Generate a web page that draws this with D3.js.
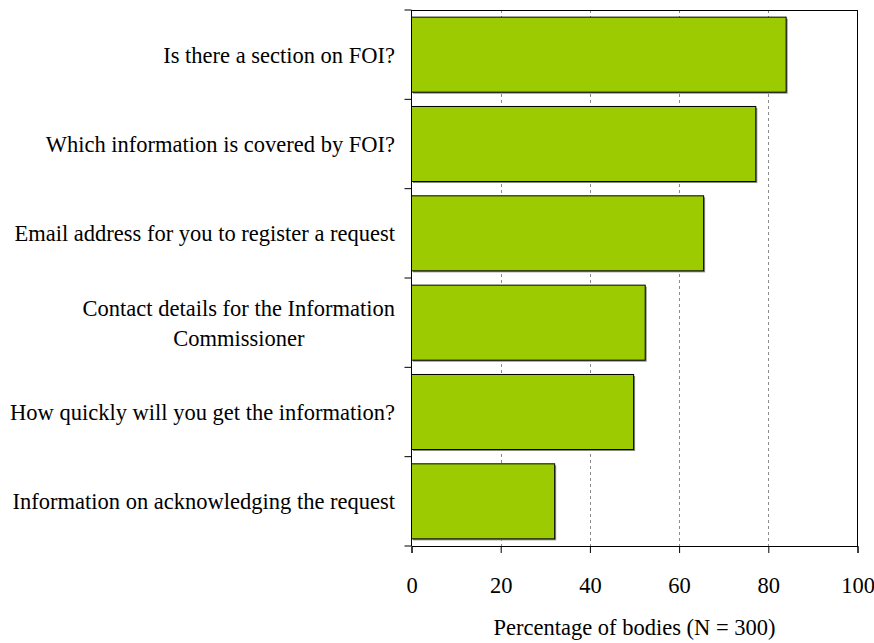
<!DOCTYPE html>
<html>
<head>
<meta charset="utf-8">
<script src="https://cdn.jsdelivr.net/npm/d3@7"></script>
<style>
  body { margin: 0; background: #fff; }
  svg { display: block; }
  svg text { font-family: "Liberation Serif", "Times New Roman", serif; }
</style>
</head>
<body>
<div class="chart"></div>
<script>
var questions = [
  ["Is there a section on FOI?"],
  ["Which information is covered by FOI?"],
  ["Email address for you to register a request"],
  ["Contact details for the Information", "Commissioner"],
  ["How quickly will you get the information?"],
  ["Information on acknowledging the request"]
];
var percentages = [84.0, 77.2, 65.5, 52.4, 49.8, 32.1];
var xTicks = [0, 20, 40, 60, 80, 100];
var xTitle = "Percentage of bodies (N = 300)";

var width = 874;
var height = 643;
var plotLeft = 411.5, plotRight = 857.5, plotTop = 10, plotBottom = 546;
var serif = "'Liberation Serif', 'Times New Roman', serif";

var svg = d3.select(".chart").append("svg")
    .attr("width", width)
    .attr("height", height);

var x = d3.scaleLinear().domain([0, 100]).range([plotLeft, plotRight]);
var y = d3.scaleBand()
    .domain(d3.range(questions.length))
    .range([plotTop, plotBottom])
    .paddingInner(0.16)
    .paddingOuter(0.08);

// dashed gridlines
svg.selectAll(".grid").data(xTicks.slice(1, -1)).enter().append("line")
    .attr("x1", function(d) { return Math.round(x(d)) + 0.5; })
    .attr("x2", function(d) { return Math.round(x(d)) + 0.5; })
    .attr("y1", plotTop).attr("y2", plotBottom)
    .attr("stroke", "#8c8c8c")
    .attr("stroke-width", 1)
    .attr("stroke-dasharray", "3,3");

// bar shadows then bars
svg.selectAll(".shadow").data(percentages).enter().append("rect")
    .attr("x", x(0) + 1.5)
    .attr("y", function(d, i) { return y(i) + 1.5; })
    .attr("width", function(d) { return x(d) - x(0); })
    .attr("height", y.bandwidth())
    .attr("fill", "#8a8a8a");

svg.selectAll(".bar").data(percentages).enter().append("rect")
    .attr("x", x(0))
    .attr("y", function(d, i) { return y(i); })
    .attr("width", function(d) { return x(d) - x(0); })
    .attr("height", y.bandwidth())
    .attr("fill", "#9bcb00")
    .attr("stroke", "#000")
    .attr("stroke-width", 1);

// frame: top and right
svg.append("line").attr("x1", plotLeft).attr("x2", plotRight).attr("y1", plotTop + 0.5).attr("y2", plotTop + 0.5)
    .attr("stroke", "#000");
svg.append("line").attr("x1", plotRight).attr("x2", plotRight).attr("y1", plotTop).attr("y2", plotBottom)
    .attr("stroke", "#000");

// axes
var xAxis = d3.axisBottom(x).tickValues(xTicks).tickSize(7).tickPadding(24);
var gx = svg.append("g").attr("transform", "translate(0," + plotBottom + ")").call(xAxis);
gx.select(".domain").attr("stroke", "#000");
gx.selectAll("line").attr("stroke", "#000");
gx.selectAll("text")
    .attr("fill", "#000")
    .style("font-size", "22.5px")
    .style("font-family", serif);

// left axis: ticks at band boundaries
var yEdges = d3.range(questions.length + 1).map(function(i) {
  return plotTop + (plotBottom - plotTop) * i / questions.length;
});
svg.append("line").attr("x1", plotLeft).attr("x2", plotLeft).attr("y1", plotTop).attr("y2", plotBottom).attr("stroke", "#000");
svg.selectAll(".ytick").data(yEdges).enter().append("line")
    .attr("x1", plotLeft - 7).attr("x2", plotLeft)
    .attr("y1", function(d) { return d; }).attr("y2", function(d) { return d; })
    .attr("stroke", "#000");

// category labels
var labelRight = 395;
var lineH = 30;
questions.forEach(function(lines, i) {
  var cy = y(i) + y.bandwidth() / 2;
  var g = svg.append("g");
  var texts = g.selectAll("text").data(lines).enter().append("text")
      .attr("y", function(d, j) { return cy + (j - (lines.length - 1) / 2) * lineH; })
      .attr("dy", "0.35em")
      .style("font-size", "22.5px")
      .style("font-family", serif)
      .attr("fill", "#000")
      .text(function(d) { return d; });
  var maxW = 0;
  texts.each(function() { maxW = Math.max(maxW, this.getComputedTextLength()); });
  texts.attr("text-anchor", "middle").attr("x", labelRight - maxW / 2);
});

// axis title
svg.append("text")
    .attr("x", (plotLeft + plotRight) / 2)
    .attr("y", 635)
    .attr("text-anchor", "middle")
    .style("font-size", "22.5px")
    .style("font-family", serif)
    .attr("fill", "#000")
    .text(xTitle);
</script>
</body>
</html>
